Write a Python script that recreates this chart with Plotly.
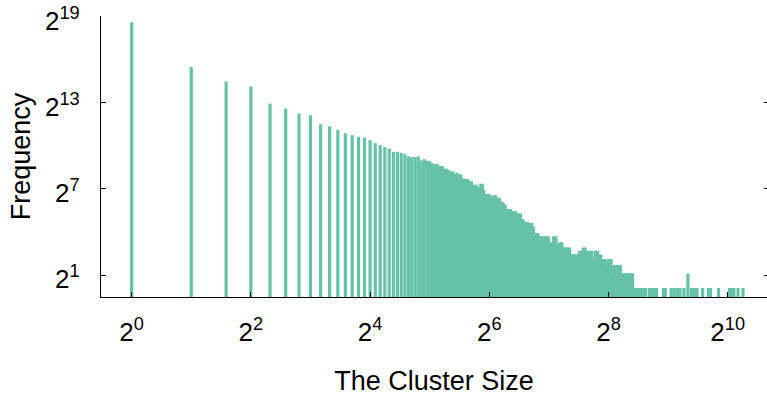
import math
import plotly.graph_objects as go

# Cluster-size histogram: how many clusters have each size (log2 axes).
cluster_size = [
    1, 2, 3, 4, 5, 6, 7, 8, 9, 10, 11, 12, 13, 14, 15, 16, 17, 18, 19, 20,
    21, 22, 23, 24, 25, 26, 27, 28, 29, 30, 31, 32, 33, 34, 35, 36, 37, 38, 39, 40,
    41, 42, 43, 44, 45, 46, 47, 48, 49, 50, 51, 52, 53, 54, 55, 56, 57, 58, 59, 60,
    61, 62, 63, 64, 65, 66, 67, 68, 69, 70, 71, 72, 73, 74, 75, 76, 77, 78, 79, 80,
    81, 82, 83, 84, 85, 86, 87, 88, 89, 90, 91, 92, 93, 94, 95, 96, 97, 98, 99, 100,
    101, 103, 105, 107, 109, 111, 113, 115, 117, 119, 121, 123, 125, 127, 129, 131,
    133, 135, 137, 139, 141, 143, 145, 147, 149, 151, 153, 155, 157, 159, 161, 163,
    165, 167, 169, 171, 173, 175, 177, 179, 181, 183, 185, 187, 189, 191, 193, 195,
    197, 199,
    201, 204, 207, 210, 213, 216, 219, 222, 225, 228, 231, 234, 237, 240, 243, 246,
    249, 252, 255, 258, 261, 264, 267, 270, 273, 276, 279, 282, 285, 288, 291, 294,
    297, 300, 303, 306, 309, 312, 315, 318, 321, 324, 327, 330, 333, 336, 339,
    342, 346, 352, 357, 363, 369, 375, 382, 388, 394,
    412, 420, 427, 435, 442, 448,
    485, 496,
    530, 548, 568, 588, 616, 645, 672, 696, 717,
    766, 819, 838, 921, 1046, 1076, 1101, 1155, 1224,
]

frequency = [
    368000, 42300, 21200, 16700, 7270, 5710, 4490, 4150, 2690, 2440,
    2050, 1740, 1580, 1460, 1420, 1250, 1080, 980, 902, 835,
    710, 710, 676, 636, 577, 550, 550, 570, 465, 500,
    465, 452, 410, 393, 393, 357, 357, 315, 315, 294,
    276, 276, 243, 260, 239, 239, 194, 194, 189, 189,
    171, 171, 145, 145, 145, 131, 131, 152, 152, 113,
    93, 93, 93, 93, 85, 85, 85, 87, 87, 72,
    77, 77, 63, 63, 63, 56, 56, 45, 45, 45,
    45, 45, 40, 40, 40, 40, 40, 36, 36, 36,
    36, 36, 27, 27, 27, 24, 24, 24, 24, 24,
    23, 23, 23, 19, 14, 14, 14, 12, 12, 12, 12, 12, 12, 12, 9, 9,
    9, 12, 12, 12, 8, 8, 9, 9, 9, 7, 7, 7, 7, 7, 7, 7,
    5, 5, 5, 5, 5, 5, 5, 5, 5, 6, 6, 6, 6, 7, 7, 7,
    5, 5,
    6, 6, 6, 6, 4, 4, 6, 6, 6, 5, 5, 5, 4, 4, 4, 4,
    3, 3, 4, 4, 4, 4, 2, 2, 3, 3, 3, 3, 3, 3, 3, 3,
    1, 2, 2, 2, 2, 2, 2, 2, 2, 2, 2, 2, 2, 2, 2,
    1, 1, 1, 1, 1, 1, 1, 1, 1, 1,
    1, 1, 1, 1, 1, 1,
    1, 1,
    1, 1, 1, 1, 1, 2, 1, 1, 1,
    1, 1, 1, 1, 1, 1, 1, 1, 1,
]

x_tick_exponents = [0, 2, 4, 6, 8, 10]
y_tick_exponents = [1, 7, 13, 19]

BAR_COLOR = "#66c2a5"
FONT = "Liberation Sans, Arial, Helvetica, sans-serif"
Y_FLOOR = 0.7  # lower end of both log axes
X_CEIL = 2 ** 10.66
Y_CEIL = 2 ** 19.03

# Each cluster size is an impulse from the axis floor up to its count.
xs, ys = [], []
for s, f in zip(cluster_size, frequency):
    xs += [s, s, None]
    ys += [Y_FLOOR, f, None]

fig = go.Figure()
fig.add_trace(go.Scatter(
    x=xs, y=ys, mode="lines",
    line=dict(color=BAR_COLOR, width=3.2),
    hoverinfo="skip", showlegend=False,
))
# Carrier for the mirrored tick marks on the right-hand side.
fig.add_trace(go.Scatter(
    x=[1], y=[1], yaxis="y2", mode="markers",
    marker=dict(opacity=0), hoverinfo="skip", showlegend=False,
))

x_range = [math.log10(Y_FLOOR), math.log10(X_CEIL)]
y_range = [math.log10(Y_FLOOR), math.log10(Y_CEIL)]

fig.update_layout(
    width=767, height=396,
    margin=dict(l=101, r=0, t=16, b=99),
    paper_bgcolor="white", plot_bgcolor="white",
    font=dict(family=FONT, color="black", size=26),
    xaxis=dict(
        type="log", range=x_range,
        tickvals=[2 ** e for e in x_tick_exponents],
        ticktext=[f"2<sup>{e}</sup>" for e in x_tick_exponents],
        ticks="inside", ticklen=5, tickcolor="black",
        showline=True, linecolor="black", linewidth=1.2,
        showgrid=False, zeroline=False,
        tickfont=dict(size=26),
        ticklabelstandoff=12,
        title=dict(text="The Cluster Size", font=dict(size=27), standoff=26),
    ),
    yaxis=dict(
        type="log", range=y_range,
        tickvals=[2 ** e for e in y_tick_exponents],
        ticktext=[f"2<sup>{e}</sup>" for e in y_tick_exponents],
        ticks="inside", ticklen=5, tickcolor="black",
        showline=True, linecolor="black", linewidth=1.2,
        showgrid=False, zeroline=False,
        tickfont=dict(size=26),
        ticklabelstandoff=15,
        ticklabelshift=4,
        title=dict(text="Frequency", font=dict(size=27), standoff=6),
    ),
    yaxis2=dict(
        type="log", range=y_range, overlaying="y", side="right",
        tickvals=[2 ** e for e in y_tick_exponents],
        ticks="inside", ticklen=3, tickcolor="black",
        showticklabels=False, showline=False, showgrid=False, zeroline=False,
    ),
)

post = """
var gd = document.getElementById('{plot_id}');
function squareCaps() {
  gd.querySelectorAll('.scatterlayer .js-line').forEach(function (p) {
    p.style.strokeLinecap = 'square';
  });
}
squareCaps();
gd.on('plotly_afterplot', squareCaps);
"""

fig.write_html("out.html", post_script=post)
